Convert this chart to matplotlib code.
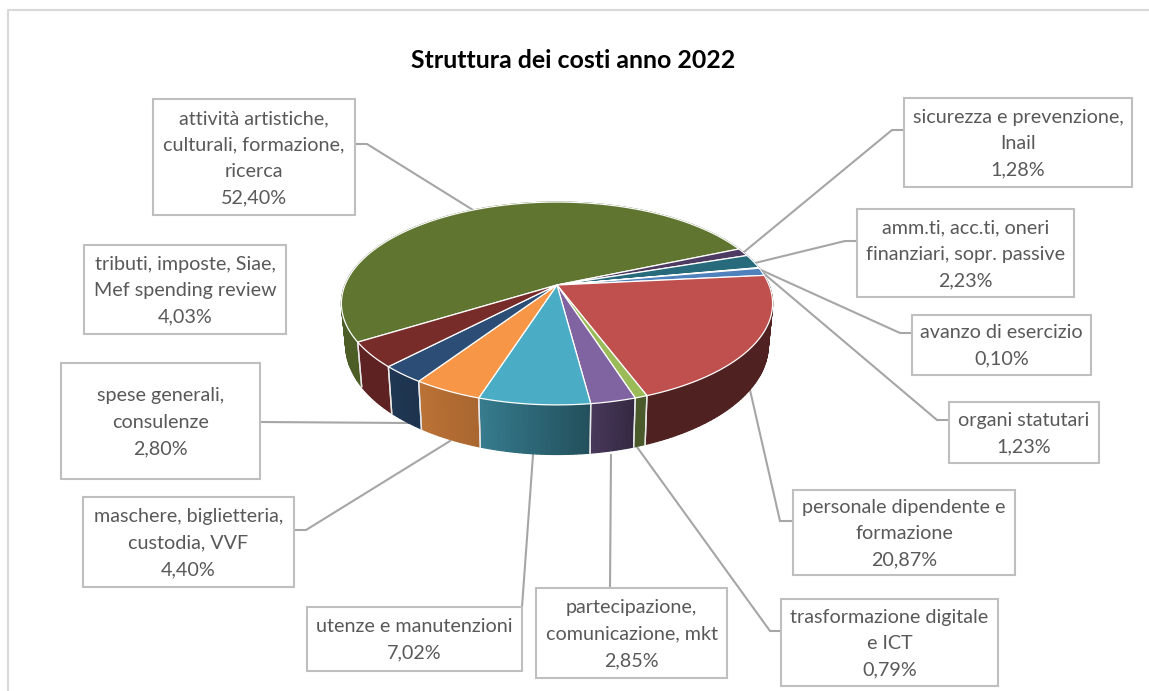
import numpy as np
import matplotlib
matplotlib.use('Agg')
import matplotlib.pyplot as plt
from matplotlib.patches import Polygon, Rectangle

plt.rcParams['font.family'] = ['Lato', 'DejaVu Sans']

categories = ['attività artistiche,\nculturali, formazione,\nricerca',
              'sicurezza e prevenzione,\nInail',
              'amm.ti, acc.ti, oneri\nfinanziari, sopr. passive',
              'avanzo di esercizio',
              'organi statutari',
              'personale dipendente e\nformazione',
              'trasformazione digitale\ne ICT',
              'partecipazione,\ncomunicazione, mkt',
              'utenze e manutenzioni',
              'maschere, biglietteria,\ncustodia, VVF',
              'spese generali,\nconsulenze',
              'tributi, imposte, Siae,\nMef spending review']
values = [52.40, 1.28, 2.23, 0.10, 1.23, 20.87, 0.79, 2.85, 7.02, 4.40, 2.80, 4.03]
colors = ['#5F7530', '#4D3B62', '#276A7C', '#B65708', '#4F81BD', '#C0504D',
          '#9BBB59', '#8064A2', '#4BACC6', '#F79646', '#2C4D75', '#772C2A']
# side shading, left and right end of each slice
shade_l = [.80, .6, .6, .6, .6, .41, .48, .56, .72, .76, .72, .78]
shade_r = [.80, .6, .6, .6, .6, .41, .48, .40, .46, .68, .66, .78]

# label boxes: left, top, right, bottom in pixels
boxes = [(153, 99, 355, 215), (904, 98, 1132, 187), (857, 209, 1074, 297),
         (912, 315, 1091, 375), (949, 402, 1099, 463), (793, 490, 1015, 575),
         (781, 599, 998, 686), (536, 588, 727, 678), (307, 607, 522, 671),
         (83, 497, 294, 587), (61, 363, 260, 479), (84, 245, 286, 334)]
leaders = [[(355, 144), (367, 144), (473, 210)],
           [(904, 130), (892, 130), (744, 252)],
           [(857, 241), (845, 241), (755, 263)],
           [(912, 333), (900, 333), (761, 270)],
           [(949, 420), (937, 420), (762, 272)],
           [(793, 521), (780, 521), (750, 390)],
           [(781, 631), (770, 631), (637, 447)],
           [(610, 588), (611, 455)],
           [(522, 607), (533, 455)],
           [(294, 530), (306, 530), (450, 441)],
           [(260, 422), (408, 423)]]

start_angle = 238.2
c = 0.182


def top_xy(ang):
    # clockwise degrees from north, perspective circle to pixels
    u = np.sin(np.radians(ang))
    v = np.cos(np.radians(ang))
    w = 1 + c * v
    return 557 + 212 * u / w, (285 - 46.2 * v) / w


def bottom_xy(ang):
    x, y = top_xy(ang)
    return 557 + (x - 557) * 0.98, y + 40 + 0.08 * (y - 285)


fig = plt.figure(figsize=(11.49, 6.91), dpi=100)
ax = fig.add_axes([0, 0, 1, 1])
ax.set_xlim(0, 1149)
ax.set_ylim(691, 0)
ax.axis('off')

ax.plot([1149, 8, 8], [10, 10, 691], color='#D9D9D9', lw=1.5, zorder=1)

edges = start_angle + np.concatenate([[0], np.cumsum(values)]) * 3.6

# sides, back to front
order = np.argsort([top_xy((edges[i] + edges[i + 1]) / 2)[1] for i in range(len(values))])
for i in order:
    a0, a1 = edges[i], edges[i + 1]
    n = max(2, int((a1 - a0) / 1.0))
    aa = np.linspace(a0, a1, n + 1)
    base = np.array(matplotlib.colors.to_rgb(colors[i]))
    for k in range(n):
        # slices run clockwise, so on the front they go right to left
        f = shade_r[i] + (shade_l[i] - shade_r[i]) * (k + .5) / n
        tx, ty = top_xy(aa[k:k + 2])
        bx, by = bottom_xy(aa[k:k + 2])
        pts = np.column_stack([np.r_[tx, bx[::-1]], np.r_[ty, by[::-1]]])
        ax.add_patch(Polygon(pts, fc=base * f, ec=base * f, lw=.9, zorder=2 + 0.01 * i))
    for a in (a0, a1):
        tx, ty = top_xy(a)
        bx, by = bottom_xy(a)
        if ty > 310:
            ax.plot([tx, bx], [ty, by], color='#E8E8E8', lw=1.0, zorder=3)

# top face
for i in range(len(values)):
    aa = np.linspace(edges[i], edges[i + 1], max(3, int(values[i] * 3.6)))
    tx, ty = top_xy(aa)
    pts = np.column_stack([np.r_[557, tx], np.r_[285, ty]])
    ax.add_patch(Polygon(pts, fc=colors[i], ec='white', lw=.9, zorder=4))

for pts in leaders:
    xs, ys = zip(*pts)
    ax.plot(xs, ys, color='#A6A6A6', lw=1.5, zorder=1.5, solid_joinstyle='miter')

for name, val, (l, t, r, b) in zip(categories, values, boxes):
    ax.add_patch(Rectangle((l, t), r - l, b - t, fc='white', ec='#BFBFBF', lw=1.5, zorder=5))
    txt = name + '\n' + f'{val:.2f}'.replace('.', ',') + '%'
    ax.text((l + r) / 2, (t + b) / 2 + 1, txt, ha='center', va='center', fontsize=14.2,
            color='#595959', linespacing=1.67, zorder=6)

ax.text(573, 60, 'Struttura dei costi anno 2022', ha='center', va='center',
        fontsize=17.9, fontweight='bold', color='black')

fig.savefig('out.png', dpi=100)
